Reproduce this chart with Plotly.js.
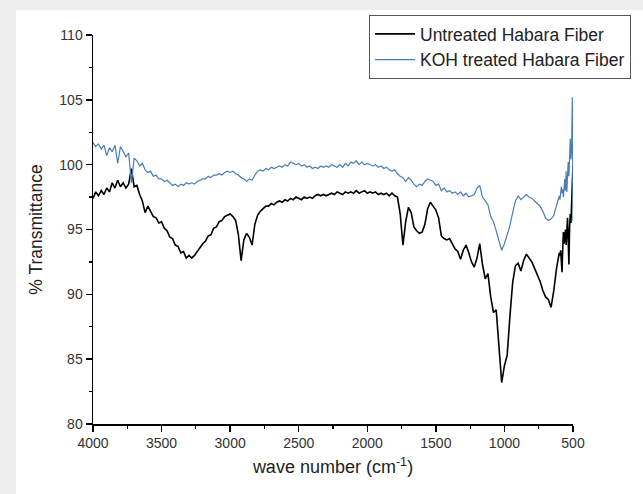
<!DOCTYPE html>
<html>
<head>
<meta charset="utf-8">
<script src="https://cdn.plot.ly/plotly-3.0.1.min.js"></script>
<style>html,body{margin:0;padding:0;background:#ededed;}#chart{width:643px;height:494px;}</style>
</head>
<body>
<div id="chart"></div>
<script>
var seriesNames = ["Untreated Habara Fiber", "KOH treated Habara Fiber"];
var xTickVals = [4000, 3500, 3000, 2500, 2000, 1500, 1000, 500];
var yTickVals = [80, 85, 90, 95, 100, 105, 110];

var waveNumber = [4000,3980,3960,3940,3920,3900,3880,3860,3840,3820,3800,3780,3760,3740,3720,3700,3680,3660,3640,3620,
3600,3580,3560,3540,3520,3500,3480,3460,3440,3420,3400,3380,3360,3340,3320,3300,3280,3260,3240,3220,
3200,3180,3160,3140,3120,3100,3080,3060,3040,3020,3000,2980,2960,2940,2920,2900,2880,2860,2840,2820,
2800,2780,2760,2740,2720,2700,2680,2660,2640,2620,2600,2580,2560,2540,2520,2500,2480,2460,2440,2420,
2400,2380,2360,2340,2320,2300,2280,2260,2240,2220,2200,2180,2160,2140,2120,2100,2080,2060,2040,2020,
2000,1980,1960,1940,1920,1900,1880,1860,1840,1820,1800,1780,1760,1740,1720,1700,1680,1660,1640,1620,
1600,1580,1560,1540,1520,1500,1480,1460,1440,1420,1400,1380,1360,1340,1320,1300,1280,1260,1240,1220,
1200,1180,1160,1140,1120,1100,1080,1060,1040,1020,1000,980,960,940,920,900,880,860,840,820,
800,780,760,740,720,700,680,660,640,620,600,595,590,585,580,575,570,565,560,555,
550,545,540,535,530,525,520,515,510,505,500];

var untreated = [97.4,97.9,97.6,98.0,97.7,98.2,97.9,98.6,98.2,98.8,98.3,98.6,98.2,98.5,99.7,98.3,98.4,97.7,97.2,96.3,
96.8,96.4,96.0,95.9,95.5,95.6,95.1,94.9,94.4,94.3,93.8,93.7,93.2,93.3,92.8,93.0,92.8,93.0,93.3,93.6,
93.9,94.1,94.5,94.6,95.1,95.2,95.6,95.7,96.0,96.1,96.2,96.0,95.7,94.6,92.6,94.2,94.7,94.4,93.8,95.4,
96.1,96.4,96.6,96.8,96.8,97.0,96.9,97.1,97.2,97.1,97.3,97.2,97.4,97.3,97.5,97.4,97.3,97.5,97.4,97.5,
97.4,97.6,97.7,97.6,97.7,97.6,97.7,97.8,97.7,97.9,97.8,97.7,97.9,97.8,97.9,97.8,98.0,97.8,97.9,98.0,
97.8,97.9,97.8,97.9,97.7,97.8,97.7,97.8,97.6,97.8,97.6,97.5,96.2,93.8,95.6,96.7,96.3,95.2,94.9,94.7,
94.8,95.4,96.6,97.1,96.8,96.5,95.9,94.5,94.3,94.2,94.3,93.9,93.5,93.3,92.7,93.4,93.8,93.2,92.5,92.1,
92.8,93.9,92.3,91.2,91.6,89.8,88.6,88.8,86.0,83.2,84.5,85.3,88.3,90.9,92.2,92.4,91.8,92.6,93.1,92.8,
92.5,92.0,91.5,91.0,90.3,89.8,89.6,89.0,90.3,92.0,93.2,93.0,93.4,92.4,91.7,93.5,94.8,93.9,94.5,95.0,
93.8,95.6,95.9,94.2,92.3,95.1,96.2,95.5,97.0,98.4,100.0];

var kohTreated = [101.7,101.4,101.6,101.2,101.5,100.7,101.3,101.0,101.5,100.1,101.4,101.0,100.6,100.9,98.6,100.5,100.3,99.9,100.1,99.6,
99.4,99.5,99.1,99.2,98.9,98.9,98.7,98.8,98.6,98.4,98.5,98.3,98.5,98.4,98.6,98.5,98.6,98.5,98.7,98.8,
98.9,98.9,99.1,99.0,99.2,99.2,99.3,99.2,99.4,99.5,99.4,99.5,99.3,99.2,99.0,98.9,98.7,98.9,98.8,99.2,
99.5,99.6,99.5,99.7,99.6,99.8,99.7,99.8,99.9,99.8,100.0,99.9,100.2,100.1,100.0,100.1,99.9,100.0,99.8,99.9,
99.7,99.8,99.7,99.9,99.8,99.9,99.8,100.0,99.9,99.8,100.0,99.8,100.1,99.9,100.2,100.1,100.3,100.0,100.2,100.0,
100.1,100.0,99.9,100.0,99.8,99.9,99.7,99.8,99.6,99.5,99.6,99.3,99.1,99.0,98.7,99.0,98.8,98.5,98.3,98.5,
98.4,98.7,98.9,98.8,98.7,98.4,98.5,98.0,98.2,97.9,98.0,97.8,97.9,97.7,97.9,97.6,97.8,97.5,97.6,97.7,
98.2,98.4,97.5,97.2,96.9,96.0,95.6,94.9,94.1,93.4,93.9,94.6,95.3,96.3,97.2,97.6,97.3,97.5,97.7,97.5,
97.4,97.2,97.0,96.8,96.4,95.9,95.7,95.8,96.1,96.9,97.6,97.3,97.9,98.3,97.8,98.1,97.5,98.6,98.9,98.0,
99.5,97.9,98.7,100.2,99.1,100.8,102.0,100.4,101.2,105.2,95.7];

var FONT = "Liberation Sans, Arial, sans-serif";
var W = 643, H = 494, ML = 93, MR = 70, MT = 35, MB = 70;
var PW = W - ML - MR, PH = H - MT - MB;
function px2x(px){ return (px - ML) / PW; }
function py2y(py){ return (H - MB - py) / PH; }

var traces = [
  {x: waveNumber, y: untreated, name: seriesNames[0], type: 'scatter', mode: 'lines',
   line: {color: '#000000', width: 1.6}},
  {x: waveNumber, y: kohTreated, name: seriesNames[1], type: 'scatter', mode: 'lines',
   line: {color: '#4a7db5', width: 1.2}}
];

var layout = {
  width: W, height: H,
  margin: {l: ML, r: MR, t: MT, b: MB, pad: 0},
  paper_bgcolor: '#ededed', plot_bgcolor: 'rgba(0,0,0,0)',
  font: {family: FONT, color: '#333333'},
  showlegend: true,
  legend: {x: px2x(631), y: py2y(15), xanchor: 'right', yanchor: 'top',
    bgcolor: '#ffffff', bordercolor: '#555555', borderwidth: 1,
    font: {family: FONT, size: 17.5, color: '#222222'}, itemwidth: 40, tracegroupgap: 0},
  xaxis: {range: [4000, 500], tickvals: xTickVals, ticktext: xTickVals.map(String),
    showgrid: false, zeroline: false, showline: true, linecolor: '#000', linewidth: 1.5,
    ticks: 'outside', ticklen: 6, tickwidth: 1.5, tickcolor: '#000',
    tickfont: {family: FONT, size: 14, color: '#333'},
    minor: {dtick: 250, tick0: 0, ticks: 'outside', ticklen: 3, tickwidth: 1.2, tickcolor: '#000'},
    title: {text: 'wave number (cm<sup>-1</sup>)', font: {family: FONT, size: 18, color: '#222'}, standoff: 10}},
  yaxis: {range: [80, 110], tickvals: yTickVals, ticktext: yTickVals.map(String),
    showgrid: false, zeroline: false, showline: true, linecolor: '#000', linewidth: 1.5,
    ticks: 'outside', ticklen: 6, tickwidth: 1.5, tickcolor: '#000',
    tickfont: {family: FONT, size: 14, color: '#333'},
    minor: {dtick: 2.5, tick0: 0, ticks: 'outside', ticklen: 3, tickwidth: 1.2, tickcolor: '#000'},
    title: {text: '% Transmittance', font: {family: FONT, size: 17.5, color: '#222'}, standoff: 12}},
  shapes: [
    {type: 'rect', xref: 'paper', yref: 'paper', layer: 'below',
     x0: px2x(16), x1: px2x(650), y0: py2y(500), y1: py2y(10),
     fillcolor: '#ffffff', line: {width: 0}}
  ]
};

Plotly.newPlot('chart', traces, layout, {displayModeBar: false, staticPlot: true});
</script>
</body>
</html>
